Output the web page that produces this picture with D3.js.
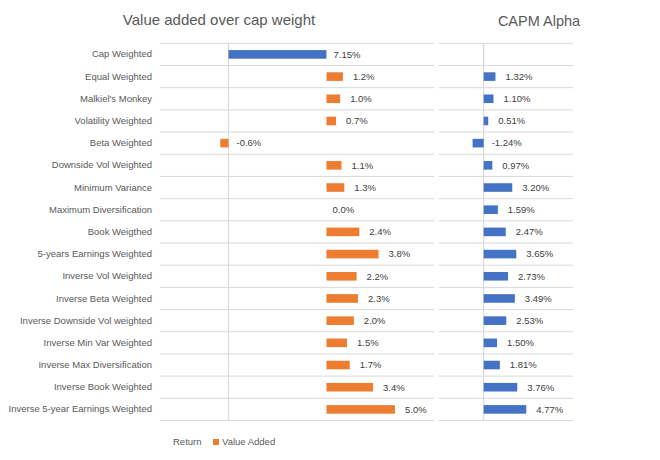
<!DOCTYPE html>
<html>
<head>
<meta charset="utf-8">
<script src="https://cdn.jsdelivr.net/npm/d3@7"></script>
<style>
  html, body { margin: 0; padding: 0; background: #fff; }
  svg { display: block; font-family: "Liberation Sans", Arial, sans-serif; }
</style>
</head>
<body>
<svg id="chart" width="660" height="460"></svg>
<script>
const categories = [
  "Cap Weighted", "Equal Weighted", "Malkiel's Monkey", "Volatility Weighted",
  "Beta Weighted", "Downside Vol Weighted", "Minimum Variance",
  "Maximum Diversification", "Book Weigthed", "5-years Earnings Weighted",
  "Inverse Vol Weighted", "Inverse Beta Weighted", "Inverse Downside Vol weighted",
  "Inverse Min Var Weighted", "Inverse Max Diversification", "Inverse Book Weighted",
  "Inverse 5-year Earnings Weighted"
];
const returnValues = [7.15, 7.15, 7.15, 7.15, 7.15, 7.15, 7.15, 7.15, 7.15, 7.15, 7.15, 7.15, 7.15, 7.15, 7.15, 7.15, 7.15];
const valueAdded = [null, 1.2, 1.0, 0.7, -0.6, 1.1, 1.3, 0.0, 2.4, 3.8, 2.2, 2.3, 2.0, 1.5, 1.7, 3.4, 5.0];
const capmAlpha = [null, 1.32, 1.10, 0.51, -1.24, 0.97, 3.20, 1.59, 2.47, 3.65, 2.73, 3.49, 2.53, 1.50, 1.81, 3.76, 4.77];
const leftDomain = [-5, 15];
const rightDomain = [-5, 10];
const seriesNames = ["Return", "Value Added"];
const titleLeft = "Value added over cap weight";
const titleRight = "CAPM Alpha";

const blue = "#4472C4", orange = "#ED7D31", grid = "#d9d9d9";
const svg = d3.select("#chart");

const y = d3.scaleBand().domain(categories).range([43.3, 420.5]).paddingInner(0).paddingOuter(0);
const barH = 8.6;
const xL = d3.scaleLinear().domain(leftDomain).range([160, 434]);
const xR = d3.scaleLinear().domain(rightDomain).range([439, 573]);

// Titles
svg.append("text").attr("x", 219).attr("y", 25).attr("text-anchor", "middle")
  .attr("font-size", 15).attr("fill", "#595959").text(titleLeft);
svg.append("text").attr("x", 539).attr("y", 26).attr("text-anchor", "middle")
  .attr("font-size", 14.5).attr("fill", "#595959").text(titleRight);

// Gridlines (row boundaries)
const bounds = categories.map(c => y(c)).concat([y.range()[1]]);
function gridlines(x0, x1) {
  svg.append("g").selectAll("line").data(bounds).join("line")
    .attr("x1", x0).attr("x2", x1).attr("y1", d => d).attr("y2", d => d)
    .attr("stroke", grid).attr("stroke-width", 1);
}
gridlines(xL.range()[0], xL.range()[1]);
gridlines(xR.range()[0], xR.range()[1]);

// Zero axes
svg.append("line").attr("x1", xL(0)).attr("x2", xL(0)).attr("y1", y.range()[0]).attr("y2", y.range()[1])
  .attr("stroke", grid).attr("stroke-width", 1.2);
svg.append("line").attr("x1", xR(0)).attr("x2", xR(0)).attr("y1", y.range()[0]).attr("y2", y.range()[1])
  .attr("stroke", grid).attr("stroke-width", 1.2);

// Category axis
const yAxis = d3.axisLeft(y).tickSize(0).tickPadding(0);
const ag = svg.append("g").attr("transform", "translate(152,0)").call(yAxis);
ag.select(".domain").remove();
ag.selectAll("text").attr("font-size", 9.5).attr("fill", "#595959")
  .attr("font-family", "'Liberation Sans', Arial, sans-serif");

// Stacked left chart
const table = categories.map((c, i) => ({ cat: c, "Return": returnValues[i], "Value Added": valueAdded[i] == null ? 0 : valueAdded[i] }));
const stack = d3.stack().keys(seriesNames).offset(d3.stackOffsetDiverging);
const series = stack(table);

const ret = series[0];
svg.append("g").selectAll("rect").data(ret).join("rect")
  .attr("x", d => xL(Math.min(d[0], d[1])))
  .attr("width", d => Math.abs(xL(d[1]) - xL(d[0])))
  .attr("y", d => y(d.data.cat) + (y.bandwidth() - barH) / 2)
  .attr("height", barH)
  .attr("fill", (d, i) => i === 0 ? blue : "none");

const va = series[1];
svg.append("g").selectAll("rect").data(va.filter((d, i) => valueAdded[i] != null && valueAdded[i] !== 0)).join("rect")
  .attr("x", d => xL(Math.min(d[0], d[1])))
  .attr("width", d => Math.abs(xL(d[1]) - xL(d[0])))
  .attr("y", d => y(d.data.cat) + (y.bandwidth() - barH) / 2)
  .attr("height", barH)
  .attr("fill", orange);

// Left labels
svg.append("text")
  .attr("x", xL(returnValues[0]) + 7)
  .attr("y", y(categories[0]) + y.bandwidth() / 2)
  .attr("dy", "0.35em").attr("font-size", 9.5).attr("fill", "#404040")
  .text(returnValues[0].toFixed(2) + "%");
const vaLabels = categories.map((c, i) => ({ cat: c, v: valueAdded[i], r: returnValues[i] })).filter(o => o.v != null);
svg.append("g").selectAll("text").data(vaLabels).join("text")
  .attr("x", o => o.v < 0 ? xL(0) + 8 : (o.v === 0 ? xL(o.r) + 6 : xL(o.r + o.v) + 10))
  .attr("y", o => y(o.cat) + y.bandwidth() / 2)
  .attr("dy", "0.35em").attr("font-size", 9.5).attr("fill", "#404040")
  .text(o => o.v.toFixed(1) + "%");

// Right chart
const alphaData = categories.map((c, i) => ({ cat: c, v: capmAlpha[i] })).filter(d => d.v != null);
svg.append("g").selectAll("rect").data(alphaData).join("rect")
  .attr("x", d => xR(Math.min(0, d.v)))
  .attr("width", d => Math.abs(xR(d.v) - xR(0)))
  .attr("y", d => y(d.cat) + (y.bandwidth() - barH) / 2)
  .attr("height", barH)
  .attr("fill", blue);
svg.append("g").selectAll("text").data(alphaData).join("text")
  .attr("x", d => d.v < 0 ? xR(0) + 8 : xR(d.v) + 10)
  .attr("y", d => y(d.cat) + y.bandwidth() / 2)
  .attr("dy", "0.35em").attr("font-size", 9.5).attr("fill", "#404040")
  .text(d => d.v.toFixed(2) + "%");

// Legend
const lg = svg.append("g").attr("transform", "translate(0,442)");
lg.append("rect").attr("x", 165).attr("y", -3).attr("width", 6).attr("height", 6).attr("fill", "none");
lg.append("text").attr("x", 173).attr("dy", "0.35em").attr("font-size", 9.5).attr("fill", "#595959").text(seriesNames[0]);
lg.append("rect").attr("x", 213).attr("y", -3).attr("width", 6).attr("height", 6).attr("fill", orange);
lg.append("text").attr("x", 222).attr("dy", "0.35em").attr("font-size", 9.5).attr("fill", "#595959").text(seriesNames[1]);
</script>
</body>
</html>
